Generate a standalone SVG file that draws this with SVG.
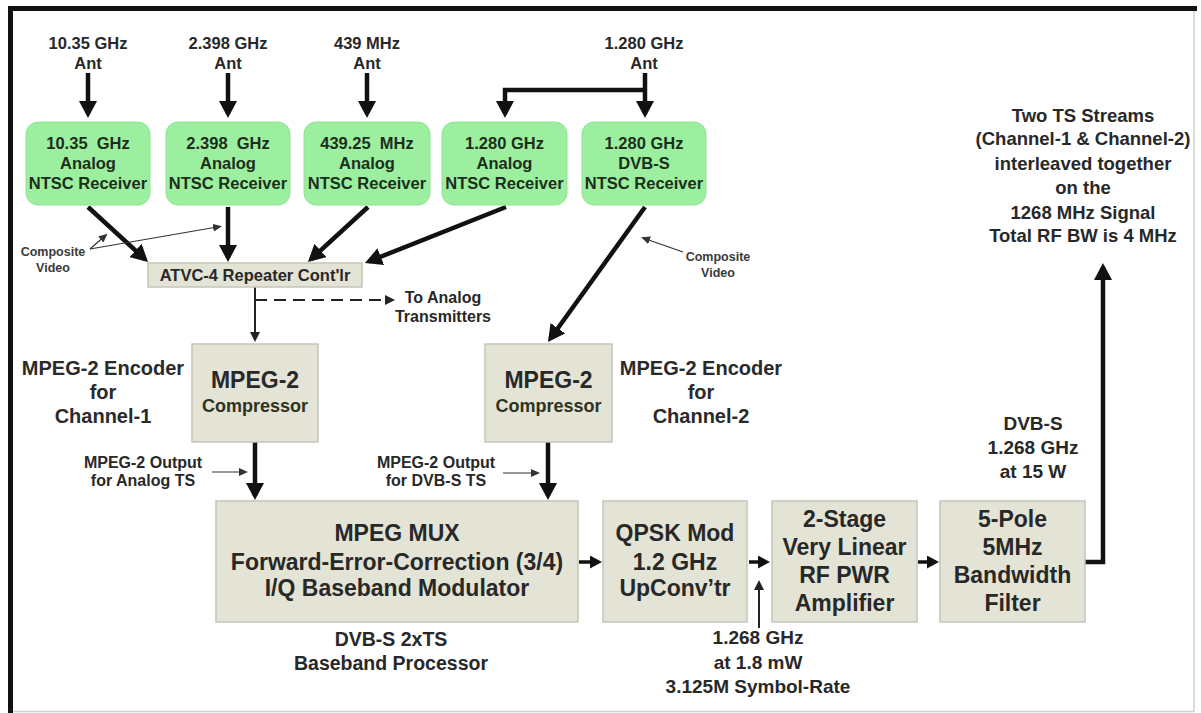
<svg xmlns="http://www.w3.org/2000/svg" width="1201" height="713" viewBox="0 0 1201 713">
<style>
text{font-family:"Liberation Sans",Arial,sans-serif;font-weight:bold;text-anchor:middle;fill:#282828}
.ant{font-size:16.5px}
.gt{font-size:16.5px;fill:#1c2e1c}
.atvc{font-size:16.5px}
.cv{font-size:12.5px;fill:#3a3a3a}
.enc{font-size:20px;fill:#2a2a2a}
.cmpb{font-size:23px}
.cmps{font-size:18px;fill:#2e3320}
.out{font-size:16px}
.ta{font-size:16px}
.big{font-size:23px}
.sub{font-size:19.5px}
.lbl{font-size:19px}
.ts{font-size:18.5px}
.green{fill:#9cef9f;stroke:#8fe494;stroke-width:1}
.box{fill:#e3e3d6;stroke:#c5c5b8;stroke-width:1.5}
.thick{stroke:#111;stroke-width:4.5;fill:none}
.mid{stroke:#111;stroke-width:3.5;fill:none}
.thin{stroke:#222;stroke-width:2;fill:none}
.hair{stroke:#333;stroke-width:1.2;fill:none}
</style>
<defs>
<marker id="hb" markerUnits="userSpaceOnUse" markerWidth="18" markerHeight="18" refX="13" refY="9" orient="auto"><path d="M0,0 L17,9 L0,18 z" fill="#111"/></marker>
<marker id="hm" markerUnits="userSpaceOnUse" markerWidth="13" markerHeight="13" refX="8" refY="6.5" orient="auto"><path d="M0,0 L12,6.5 L0,13 z" fill="#111"/></marker>
<marker id="hs" markerUnits="userSpaceOnUse" markerWidth="11" markerHeight="10" refX="7" refY="5" orient="auto"><path d="M0,0 L10,5 L0,10 z" fill="#222"/></marker>
<marker id="ht" markerUnits="userSpaceOnUse" markerWidth="9" markerHeight="8" refX="7" refY="4" orient="auto"><path d="M0,0 L9,4 L0,8 z" fill="#333"/></marker>
</defs>
<rect width="1201" height="713" fill="#fff"/>
<g id="frame">
<rect x="8" y="6" width="1189" height="5" fill="#111"/>
<rect x="8" y="6" width="5" height="707" fill="#111"/>
<line x1="1194" y1="11" x2="1194" y2="712" stroke="#d0d0d0" stroke-width="1.5"/>
<line x1="13" y1="711.5" x2="1194" y2="711.5" stroke="#d0d0d0" stroke-width="1.5"/>
</g>
<g id="connectors">
<path class="thick" d="M88,73 V114" marker-end="url(#hb)"/>
<path class="thick" d="M228,73 V114" marker-end="url(#hb)"/>
<path class="thick" d="M367,73 V114" marker-end="url(#hb)"/>
<path class="thick" d="M645,73 V114" marker-end="url(#hb)"/>
<path class="thick" d="M645,90 H505 V114" marker-end="url(#hb)"/>
<path class="thick" d="M88,207 L145.1,259.3" marker-end="url(#hb)"/>
<path class="thick" d="M228,207 V258" marker-end="url(#hb)"/>
<path class="thick" d="M368,207 L310.9,259.3" marker-end="url(#hb)"/>
<path class="thick" d="M506,207 L368.7,261.5" marker-end="url(#hb)"/>
<path class="thick" d="M645,207 L550.3,338.8" marker-end="url(#hb)"/>
<path class="thin" d="M255,287 V339" marker-end="url(#hs)"/>
<path class="thin" d="M255,300 H392" stroke-dasharray="12,7" marker-end="url(#hs)"/>
<path class="thick" d="M255,442 V496" marker-end="url(#hb)"/>
<path class="thick" d="M548,442 V496" marker-end="url(#hb)"/>
<path class="hair" d="M212,472 H246" stroke-width="1.6" marker-end="url(#ht)"/>
<path class="hair" d="M503,473 H538" stroke-width="1.6" marker-end="url(#ht)"/>
<path class="mid" d="M579,562 H598" marker-end="url(#hm)"/>
<path class="mid" d="M749,562 H766" marker-end="url(#hm)"/>
<path class="mid" d="M918,562 H935" marker-end="url(#hm)"/>
<path class="thin" d="M759,628 V583" marker-end="url(#hs)"/>
<path class="thick" d="M1085,562 H1103 V267" marker-end="url(#hb)"/>
<path class="hair" d="M90,249 L106,235" marker-end="url(#ht)"/>
<path class="hair" d="M90,249 L220,226.5" marker-end="url(#ht)"/>
<path class="hair" d="M683,252 L643,238" marker-end="url(#ht)"/>
</g>
<g id="lbl-ant">
<text class="ant" x="88" y="48.5">10.35 GHz</text><text class="ant" x="88" y="68.5">Ant</text>
<text class="ant" x="228" y="48.5">2.398 GHz</text><text class="ant" x="228" y="68.5">Ant</text>
<text class="ant" x="367" y="48.5">439 MHz</text><text class="ant" x="367" y="68.5">Ant</text>
<text class="ant" x="644" y="48.5">1.280 GHz</text><text class="ant" x="644" y="68.5">Ant</text>
</g>
<g id="rx1"><rect class="green" x="26" y="122" width="124" height="83" rx="12"/>
<text class="gt" x="88" y="149" xml:space="preserve">10.35  GHz</text><text class="gt" x="88" y="169">Analog</text><text class="gt" x="88" y="189">NTSC Receiver</text></g>
<g id="rx2"><rect class="green" x="166" y="122" width="124" height="83" rx="12"/>
<text class="gt" x="228" y="149" xml:space="preserve">2.398  GHz</text><text class="gt" x="228" y="169">Analog</text><text class="gt" x="228" y="189">NTSC Receiver</text></g>
<g id="rx3"><rect class="green" x="304" y="122" width="126" height="83" rx="12"/>
<text class="gt" x="367" y="149" xml:space="preserve">439.25  MHz</text><text class="gt" x="367" y="169">Analog</text><text class="gt" x="367" y="189">NTSC Receiver</text></g>
<g id="rx4"><rect class="green" x="442" y="122" width="125" height="83" rx="12"/>
<text class="gt" x="504.5" y="149">1.280 GHz</text><text class="gt" x="504.5" y="169">Analog</text><text class="gt" x="504.5" y="189">NTSC Receiver</text></g>
<g id="rx5"><rect class="green" x="582" y="122" width="124" height="83" rx="12"/>
<text class="gt" x="644" y="149">1.280 GHz</text><text class="gt" x="644" y="169">DVB-S</text><text class="gt" x="644" y="189">NTSC Receiver</text></g>
<g id="atvc"><rect class="box" x="148" y="263" width="214" height="24"/>
<text class="atvc" x="255" y="281">ATVC-4 Repeater Cont'lr</text></g>
<g id="cv-left"><text class="cv" x="53" y="256">Composite</text><text class="cv" x="53" y="272">Video</text></g>
<g id="cv-right"><text class="cv" x="718" y="261">Composite</text><text class="cv" x="718" y="277">Video</text></g>
<g id="to-analog"><text class="ta" x="443" y="303">To Analog</text><text class="ta" x="443" y="322">Transmitters</text></g>
<g id="comp1"><rect class="box" x="192" y="344" width="126" height="98"/>
<text class="cmpb" x="255" y="388">MPEG-2</text><text class="cmps" x="255" y="412">Compressor</text></g>
<g id="comp2"><rect class="box" x="485" y="344" width="127" height="98"/>
<text class="cmpb" x="548.5" y="388">MPEG-2</text><text class="cmps" x="548.5" y="412">Compressor</text></g>
<g id="enc1"><text class="enc" x="103" y="375">MPEG-2 Encoder</text><text class="enc" x="103" y="399">for</text><text class="enc" x="103" y="423">Channel-1</text></g>
<g id="enc2"><text class="enc" x="701" y="375">MPEG-2 Encoder</text><text class="enc" x="701" y="399">for</text><text class="enc" x="701" y="423">Channel-2</text></g>
<g id="out1"><text class="out" x="143" y="467.5">MPEG-2 Output</text><text class="out" x="143" y="485.5">for Analog TS</text></g>
<g id="out2"><text class="out" x="436" y="467.5">MPEG-2 Output</text><text class="out" x="436" y="485.5">for DVB-S TS</text></g>
<g id="mux"><rect class="box" x="216" y="501" width="362" height="121"/>
<text class="big" x="397" y="541">MPEG MUX</text><text class="big" x="397" y="570">Forward-Error-Correction (3/4)</text><text class="big" x="397" y="596">I/Q Baseband Modulator</text></g>
<g id="mux-lbl"><text class="sub" x="391" y="646">DVB-S 2xTS</text><text class="sub" x="391" y="670">Baseband Processor</text></g>
<g id="qpsk"><rect class="box" x="603" y="501" width="144" height="121"/>
<text class="big" x="675" y="541">QPSK Mod</text><text class="big" x="675" y="570">1.2 GHz</text><text class="big" x="675" y="596">UpConv’tr</text></g>
<g id="lo-lbl"><text class="lbl" x="758" y="644">1.268 GHz</text><text class="lbl" x="758" y="669">at 1.8 mW</text><text class="lbl" x="758" y="693">3.125M Symbol-Rate</text></g>
<g id="amp"><rect class="box" x="772" y="501" width="145" height="121"/>
<text class="big" x="844.5" y="527">2-Stage</text><text class="big" x="844.5" y="555">Very Linear</text><text class="big" x="844.5" y="583">RF PWR</text><text class="big" x="844.5" y="611">Amplifier</text></g>
<g id="filter"><rect class="box" x="940" y="501" width="145" height="121"/>
<text class="big" x="1012.5" y="527">5-Pole</text><text class="big" x="1012.5" y="555">5MHz</text><text class="big" x="1012.5" y="583">Bandwidth</text><text class="big" x="1012.5" y="611">Filter</text></g>
<g id="out-lbl"><text class="lbl" x="1033" y="430">DVB-S</text><text class="lbl" x="1033" y="454">1.268 GHz</text><text class="lbl" x="1033" y="478">at 15 W</text></g>
<g id="ts-lbl">
<text class="ts" x="1083" y="121.5">Two TS Streams</text>
<text class="ts" x="1083" y="144.5">(Channel-1 &amp; Channel-2)</text>
<text class="ts" x="1083" y="169.5">interleaved together</text>
<text class="ts" x="1083" y="193.5">on the</text>
<text class="ts" x="1083" y="218.5">1268 MHz Signal</text>
<text class="ts" x="1083" y="241.5">Total RF BW is 4 MHz</text>
</g>
</svg>
